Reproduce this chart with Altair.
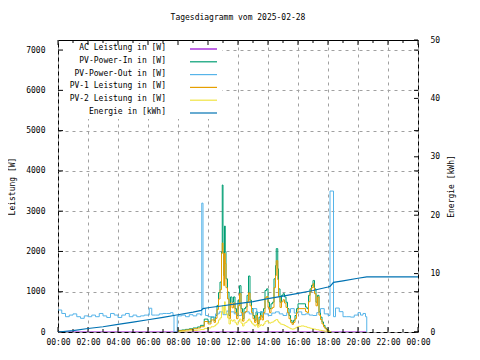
import altair as alt
import pandas as pd

TITLE = "Tagesdiagramm vom 2025-02-28"
FONT = "DejaVu Sans Mono"

hour_ticks = list(range(0, 25, 2))
minor_hours = list(range(1, 24, 2))
watt_ticks = list(range(0, 7001, 1000))
kwh_ticks = list(range(0, 51, 10))

series_names = ["AC Leistung in [W]", "PV-Power-In in [W]", "PV-Power-Out in [W]",
                "PV-1 Leistung in [W]", "PV-2 Leistung in [W]", "Energie in [kWh]"]
series_colors = ["#9400d3", "#009e73", "#56b4e9", "#e69f00", "#f0e442", "#0072b2"]

ac_times = ["00:00", "20:35"]
ac_watts = [0, 0]

pv_times = [
    "08:00", "08:15", "08:30", "08:45", "09:00", "09:18", "09:30", "09:45", "10:00", "10:12", "10:24", "10:30",
    "10:36", "10:42", "10:48", "10:54", "10:57", "11:00", "11:03", "11:06", "11:09", "11:12", "11:18", "11:24",
    "11:30", "11:36", "11:42", "11:48", "11:54", "12:00", "12:06", "12:12", "12:18", "12:24", "12:30", "12:36",
    "12:42", "12:48", "12:54", "13:00", "13:06", "13:12", "13:18", "13:24", "13:30", "13:36", "13:42", "13:48",
    "13:54", "14:00", "14:06", "14:12", "14:18", "14:24", "14:30", "14:33", "14:39", "14:42", "14:48", "14:54",
    "15:00", "15:06", "15:12", "15:18", "15:24", "15:30", "15:36", "15:42", "15:48", "15:54", "16:00", "16:12",
    "16:24", "16:30", "16:36", "16:42", "16:48", "16:54", "17:00", "17:03", "17:06", "17:12", "17:18", "17:24",
    "17:30", "17:36", "17:42", "17:48", "17:54", "18:00", "18:06", "18:12",
]
pv_in_watts = [
    40, 50, 65, 80, 100, 125, 165, 320, 250, 370, 290, 410,
    660, 980, 1240, 1990, 3650, 1990, 1400, 2630, 1990, 1320, 990, 410,
    870, 740, 870, 580, 410, 790, 1150, 580, 330, 580, 620, 910,
    1390, 790, 580, 410, 290, 500, 210, 370, 500, 370, 580, 1030,
    1070, 740, 580, 700, 740, 1320, 1650, 2070, 1570, 1070, 740, 910,
    950, 870, 740, 580, 410, 290, 230, 290, 410, 580, 700, 700,
    700, 620, 580, 910, 1070, 1160, 1280, 1280, 1070, 740, 910, 500,
    370, 250, 165, 100, 60, 25, 10, 0,
]
pv1_watts = [
    30, 40, 50, 65, 80, 100, 130, 260, 200, 300, 240, 340,
    560, 820, 1050, 1950, 2210, 1950, 1150, 1950, 1700, 1100, 820, 330,
    720, 600, 720, 480, 330, 650, 950, 480, 270, 480, 510, 750,
    970, 650, 480, 330, 240, 410, 170, 300, 410, 300, 480, 850,
    880, 610, 480, 580, 610, 1100, 1400, 1770, 1300, 880, 610, 750,
    800, 720, 610, 480, 330, 240, 190, 240, 330, 480, 580, 580,
    580, 510, 480, 750, 1000, 1100, 1200, 1100, 950, 650, 870, 420,
    310, 200, 130, 80, 45, 20, 5, 0,
]
pv2_watts = [
    15, 20, 25, 30, 40, 50, 60, 90, 100, 130, 150, 180,
    220, 300, 350, 500, 650, 600, 450, 750, 550, 450, 350, 200,
    300, 270, 300, 230, 180, 260, 320, 220, 150, 220, 240, 280,
    320, 270, 220, 180, 150, 190, 120, 150, 180, 160, 200, 260,
    280, 240, 220, 240, 250, 280, 300, 310, 270, 240, 200, 190,
    180, 160, 140, 120, 100, 80, 70, 80, 100, 120, 140, 150,
    140, 130, 115, 105, 95, 85, 80, 75, 70, 60, 55, 45,
    40, 32, 25, 20, 14, 8, 3, 0,
]

out_times = [
    "00:00", "00:15", "00:30", "00:45", "01:00", "01:15", "01:30", "01:45", "02:00", "02:15", "02:30", "02:45",
    "03:00", "03:15", "03:30", "03:45", "04:00", "04:15", "04:30", "04:45", "05:00", "05:15", "05:30", "05:45",
    "06:05", "06:15", "06:30", "06:45", "07:00", "07:15", "07:30", "07:40", "07:44", "07:57", "08:15", "08:30",
    "08:45", "09:00", "09:15", "09:30", "09:35", "09:40", "09:50", "10:00", "10:15", "10:30", "10:45", "11:00",
    "11:15", "11:30", "11:45", "12:00", "12:15", "12:30", "12:45", "13:00", "13:15", "13:30", "13:45", "14:00",
    "14:15", "14:30", "14:45", "15:00", "15:15", "15:30", "15:45", "16:00", "16:15", "16:30", "16:45", "17:00",
    "17:15", "17:30", "17:45", "18:00", "18:08", "18:22", "18:30", "18:45", "19:00", "19:15", "19:30", "19:45",
    "20:00", "20:10", "20:20", "20:30", "20:35",
]
out_watts = [
    546, 460, 380, 420, 450, 380, 340, 400, 380, 420, 380, 460,
    400, 360, 460, 420, 360, 420, 460, 380, 420, 380, 400, 420,
    590, 420, 420, 450, 460, 460, 480, 420, 0, 400, 420, 380,
    430, 400, 450, 420, 3200, 580, 410, 380, 370, 450, 500, 430,
    520, 500, 450, 410, 470, 500, 450, 580, 480, 500, 450, 410,
    470, 500, 450, 410, 480, 580, 470, 500, 430, 450, 420, 410,
    480, 580, 450, 410, 3500, 380, 595, 505, 380, 380, 370, 420,
    480, 420, 460, 380, 0,
]

energy_times = ["00:00", "01:00", "02:00", "03:00", "04:00", "05:00", "06:00", "07:00", "08:00", "09:00",
                "09:33", "09:40", "10:00", "11:00", "12:00", "13:00", "14:00", "15:00", "16:00", "17:00",
                "18:00", "18:08", "18:22", "19:00", "20:00", "20:35", "24:00"]
energy_kwh = [0.0, 0.25, 0.6, 0.9, 1.3, 1.7, 2.1, 2.5, 2.95, 3.4,
              3.7, 4.0, 4.15, 4.5, 4.85, 5.2, 5.7, 6.15, 6.6, 7.1,
              7.7, 7.8, 8.5, 8.75, 9.2, 9.45, 9.45]


def to_h(s):
    hh, mm = s.split(":")
    return int(hh) + int(mm) / 60.0


def frame(times, vals, col):
    return pd.DataFrame({"h": [to_h(t) for t in times], col: vals})


W, H = 360, 292

x_scale = alt.Scale(domain=[0, 24], nice=False, zero=False)
x_axis = alt.Axis(values=hour_ticks, grid=True, ticks=False, domain=False, title=None,
                  labelPadding=6, labelOverlap=False, labelFlush=False,
                  labelExpr="(datum.value % 24 < 10 ? '0' : '') + (datum.value % 24) + ':00'")
w_scale = alt.Scale(domain=[0, 7250], nice=False)
w_axis = alt.Axis(values=watt_ticks, grid=True, ticks=False, domain=False, title="Leistung [W]",
                  labelPadding=13, titlePadding=9, format="d", labelOverlap=False)
e_scale = alt.Scale(domain=[0, 50], nice=False)
e_axis = alt.Axis(orient="right", values=kwh_ticks, grid=False, ticks=False, domain=False,
                  title="Energie [kWh]", labelPadding=12, titlePadding=16, titleAngle=270,
                  labelAlign="left", labelOverlap=False)

X = alt.X("h:Q", scale=x_scale, axis=x_axis)
Yw = alt.Y("w:Q", scale=w_scale, axis=w_axis)
Ye = alt.Y("e:Q", scale=e_scale, axis=e_axis)


def wline(df, color):
    return alt.Chart(df).mark_line(color=color, strokeWidth=1, interpolate="step-after",
                                   clip=True).encode(x=X, y=Yw)


# opaque key box background (hides the grid behind the legend)
key_bg = alt.Chart(pd.DataFrame({"k": [0]})).mark_rect(color="white").encode(
    x=alt.value(1), x2=alt.value(164), y=alt.value(1), y2=alt.value(79))

left_layers = [
    key_bg,
    wline(frame(ac_times, ac_watts, "w"), series_colors[0]),
    wline(frame(pv_times, pv_in_watts, "w"), series_colors[1]),
    wline(frame(out_times, out_watts, "w"), series_colors[2]),
    wline(frame(pv_times, pv1_watts, "w"), series_colors[3]),
    wline(frame(pv_times, pv2_watts, "w"), series_colors[4]),
]

# tick marks (gnuplot style, inward, mirrored)
major_df = pd.DataFrame({"h": hour_ticks})
minor_df = pd.DataFrame({"h": minor_hours})
wt_df = pd.DataFrame({"w": watt_ticks})
for df, ln in [(major_df, 5), (minor_df, 3)]:
    left_layers.append(alt.Chart(df).mark_rule(color="black", strokeWidth=1).encode(
        x=X, y=alt.value(H), y2=alt.value(H - ln)))
    left_layers.append(alt.Chart(df).mark_rule(color="black", strokeWidth=1).encode(
        x=X, y=alt.value(0), y2=alt.value(ln)))
left_layers.append(alt.Chart(wt_df).mark_rule(color="black", strokeWidth=1).encode(
    y=Yw, x=alt.value(0), x2=alt.value(5)))
left_layers.append(alt.Chart(wt_df).mark_rule(color="black", strokeWidth=1).encode(
    y=Yw, x=alt.value(W - 4), x2=alt.value(W)))

# legend (inside, top-left, labels right-aligned, sample line to the right)
for i, (name, col) in enumerate(zip(series_names, series_colors)):
    ypix = 8 + 12.8 * i
    ldf = pd.DataFrame({"t": [name]})
    left_layers.append(alt.Chart(ldf).mark_text(
        align="right", baseline="middle", font=FONT, fontSize=8, color="black").encode(
        text="t:N", x=alt.value(108), y=alt.value(ypix)))
    left_layers.append(alt.Chart(ldf).mark_rule(color=col, strokeWidth=1.2).encode(
        x=alt.value(132), x2=alt.value(159), y=alt.value(ypix + 1)))

et_df = pd.DataFrame({"e": kwh_ticks})
right_layers = [
    alt.Chart(frame(energy_times, energy_kwh, "e")).mark_line(
        color=series_colors[5], strokeWidth=1.2, clip=True).encode(x=X, y=Ye),
    alt.Chart(et_df).mark_rule(color="black", strokeWidth=1).encode(
        y=Ye, x=alt.value(W - 4), x2=alt.value(W)),
]

chart = alt.layer(
    alt.layer(*left_layers),
    alt.layer(*right_layers),
).resolve_scale(y="independent").properties(
    width=W, height=H,
    padding={"left": 50, "top": 32, "right": 50, "bottom": 20},
    autosize=alt.AutoSizeParams(type="none"),
    title=alt.TitleParams(TITLE, font=FONT, fontSize=8, fontWeight="normal", color="black",
                          anchor="middle", offset=14),
).configure_axis(
    labelFont=FONT, labelFontSize=8, labelColor="black",
    titleFont=FONT, titleFontSize=8, titleFontWeight="normal", titleColor="black",
    gridColor="#a0a0a0", gridDash=[3, 4], gridWidth=1,
).configure_view(stroke="black", strokeWidth=1)

chart.save("out.html", embed_options={"renderer": "svg", "actions": False})
